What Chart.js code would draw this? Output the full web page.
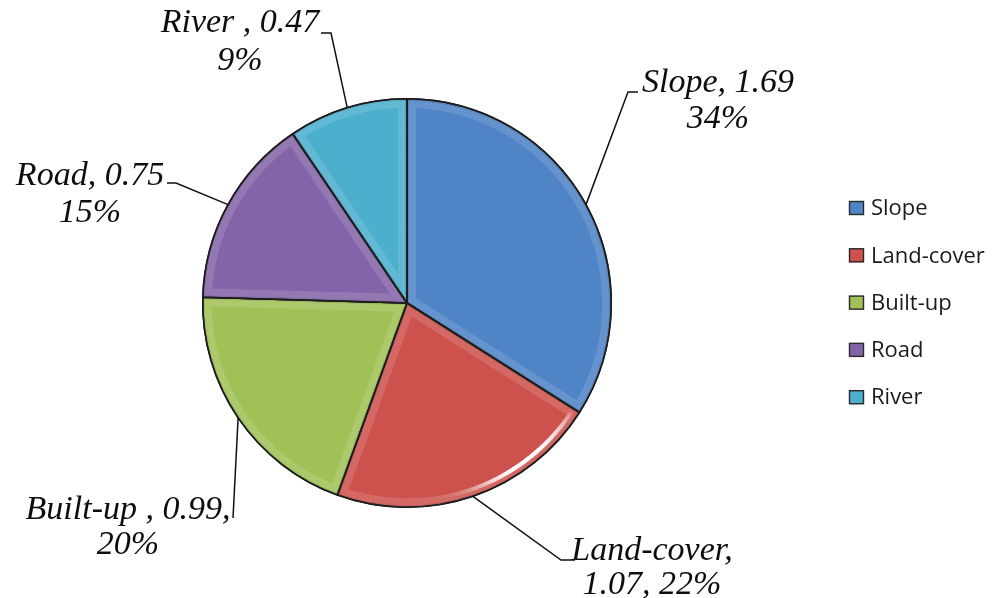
<!DOCTYPE html>
<html>
<head>
<meta charset="utf-8">
<script src="https://cdn.jsdelivr.net/npm/chart.js@4.4.0/dist/chart.umd.min.js"></script>
<style>
  html, body { margin: 0; padding: 0; background: #fff; }
  #wrap { width: 1003px; height: 598px; }
</style>
</head>
<body>
<div id="wrap"><canvas id="pieChart" width="1003" height="598"></canvas></div>
<script>
// factor weights
const categories = ["Slope", "Land-cover", "Built-up", "Road", "River"];
const weights = [1.69, 1.07, 0.99, 0.75, 0.47];
const sliceColors = ["#4f84c6", "#cd524e", "#a0c155", "#8464a8", "#4bafcd"];

// Excel-style label text, {n} name, {v} value, {p} percent
const labelTemplates = [
  ["{n}, {v}", "{p}"],
  ["{n},", "{v}, {p}"],
  ["{n} , {v},", "{p}"],
  ["{n}, {v}", "{p}"],
  ["{n} , {v}", "{p}"]
];

// label placement (layout only): text centre x, first baseline, line gap, leader elbow + end
const labelLayout = [
  { x: 718, y: 92, gap: 36, elbow: [628, 92], end: [638, 92] },
  { x: 652, y: 560, gap: 34, elbow: [561, 560], end: [575, 560] },
  { x: 128, y: 519, gap: 35, elbow: [233, 518], end: null },
  { x: 90, y: 185, gap: 37, elbow: [176, 183], end: [167, 183] },
  { x: 240, y: 32, gap: 38, elbow: [331, 33], end: [321, 33] }
];

const total = weights.reduce((a, b) => a + b, 0);

function labelText(i) {
  const pct = Math.round(weights[i] / total * 100) + "%";
  return labelTemplates[i].map(t =>
    t.replace("{n}", categories[i]).replace("{v}", weights[i].toFixed(2)).replace("{p}", pct)
  );
}

function slicePath(ctx, arc) {
  const p = arc.getProps(["x", "y", "startAngle", "endAngle", "outerRadius"], true);
  ctx.beginPath();
  ctx.moveTo(p.x, p.y);
  ctx.arc(p.x, p.y, p.outerRadius, p.startAngle, p.endAngle);
  ctx.closePath();
  return p;
}

// soft bevel so the slices look a bit like the Office pie
const bevelPlugin = {
  id: "bevel",
  afterDatasetsDraw(chart) {
    const ctx = chart.ctx;
    const arcs = chart.getDatasetMeta(0).data;
    arcs.forEach(arc => {
      ctx.save();
      const p = slicePath(ctx, arc);
      ctx.clip();
      ctx.lineJoin = "round";
      ctx.strokeStyle = "rgba(255,255,255,0.13)";
      ctx.lineWidth = 18;
      ctx.stroke();
      ctx.strokeStyle = "rgba(0,0,0,0.10)";
      ctx.lineWidth = 4;
      ctx.stroke();
      // shiny rim low on the right, like the reference lighting
      ctx.lineCap = "round";
      for (let a = 34; a < 95; a += 1) {
        const alpha = 0.9 * Math.exp(-Math.pow((a - 52) / 14, 2));
        ctx.strokeStyle = "rgba(255,255,255," + alpha.toFixed(3) + ")";
        ctx.lineWidth = 4;
        ctx.beginPath();
        ctx.arc(p.x, p.y, p.outerRadius - 7, a * Math.PI / 180, (a + 1.2) * Math.PI / 180);
        ctx.stroke();
      }
      ctx.restore();

      ctx.save();
      slicePath(ctx, arc);
      ctx.lineJoin = "bevel";
      ctx.strokeStyle = "#1c1c1c";
      ctx.lineWidth = 1.6;
      ctx.stroke();
      ctx.restore();
    });
  }
};

// data labels with leader lines
const labelPlugin = {
  id: "sliceLabels",
  afterDraw(chart) {
    const ctx = chart.ctx;
    const meta = chart.getDatasetMeta(0);
    ctx.save();
    ctx.strokeStyle = "#111";
    ctx.lineWidth = 1.5;
    ctx.fillStyle = "#0d0d0d";
    ctx.font = "italic 34px 'Liberation Serif', 'Times New Roman', serif";
    ctx.textAlign = "center";
    ctx.textBaseline = "alphabetic";
    meta.data.forEach((arc, i) => {
      const p = arc.getProps(["x", "y", "startAngle", "endAngle", "outerRadius"], true);
      const mid = (p.startAngle + p.endAngle) / 2;
      const ax = p.x + Math.cos(mid) * p.outerRadius;
      const ay = p.y + Math.sin(mid) * p.outerRadius;
      const lay = labelLayout[i];
      ctx.beginPath();
      ctx.moveTo(ax, ay);
      ctx.lineTo(lay.elbow[0], lay.elbow[1]);
      if (lay.end) ctx.lineTo(lay.end[0], lay.end[1]);
      ctx.stroke();
      labelText(i).forEach((line, k) => {
        ctx.fillText(line, lay.x, lay.y + k * lay.gap);
      });
    });
    ctx.restore();
  }
};

// legend on the right, drawn by hand to sit where Excel put it
const legendPlugin = {
  id: "sideLegend",
  afterDraw(chart) {
    const ctx = chart.ctx;
    const ds = chart.data.datasets[0];
    ctx.save();
    ctx.font = "22px 'Open Sans', 'Noto Sans', sans-serif";
    ctx.textBaseline = "middle";
    ctx.textAlign = "left";
    chart.data.labels.forEach((name, i) => {
      const cy = 208 + i * 47.3;
      ctx.fillStyle = ds.backgroundColor[i];
      ctx.fillRect(849, cy - 7, 15, 14);
      ctx.strokeStyle = "#2a2a2a";
      ctx.lineWidth = 1.4;
      ctx.strokeRect(849.5, cy - 6.5, 14, 13);
      ctx.fillStyle = "#1a1a1a";
      ctx.fillText(name, 871, cy + 1);
    });
    ctx.restore();
  }
};

new Chart(document.getElementById("pieChart"), {
  type: "pie",
  data: {
    labels: categories,
    datasets: [{
      data: weights,
      backgroundColor: sliceColors,
      borderColor: "#1c1c1c",
      borderWidth: 1.5
    }]
  },
  options: {
    responsive: false,
    animation: false,
    layout: {
      padding: { left: 202, right: 391, top: 98, bottom: 90 }
    },
    plugins: {
      legend: { display: false },
      tooltip: { enabled: false }
    }
  },
  plugins: [bevelPlugin, labelPlugin, legendPlugin]
});
</script>
</body>
</html>
